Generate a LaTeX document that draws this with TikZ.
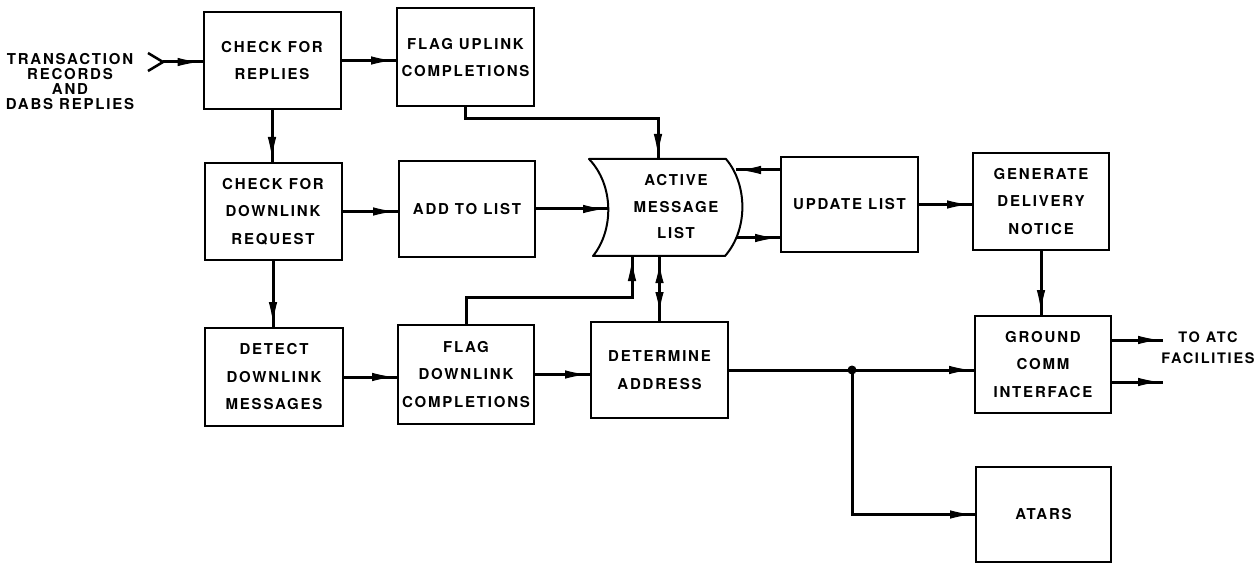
\documentclass[tikz,border=0pt]{standalone}
\usepackage{fontspec}
\newfontfamily\lbl[LetterSpace=12]{TeX Gyre Heros}
\usetikzlibrary{arrows.meta}
\tikzset{
  box/.style={draw, line width=2pt, minimum width=137pt, minimum height=97pt, inner sep=0pt, align=center,
    font=\lbl\bfseries\fontsize{15}{27.5}\selectfont},
  lab/.style={inner sep=0pt, align=center},
  flow/.style={line width=3pt,
    postaction={draw, line width=1pt, -{Latex[length=21pt,width=8.5pt]}, shorten >=4pt}},
  flowboth/.style={line width=3pt,
    postaction={draw, line width=1pt, {Latex[length=19pt,width=8.5pt]}-{Latex[length=19pt,width=8.5pt]},
      shorten >=8pt, shorten <=10pt}},
}
\begin{document}
\begin{tikzpicture}[x=1pt,y=-1pt]
\useasboundingbox (0,0) rectangle (1256,564);
% boxes
\node[box] (replies) at (272,60.5) {CHECK FOR\\REPLIES};
\node[box, minimum height=98pt] (uplink) at (465.5,57.5) {FLAG UPLINK\\COMPLETIONS};
\node[box] (dlreq) at (273,211.5) {CHECK FOR\\DOWNLINK\\REQUEST};
\node[box, minimum width=136pt, minimum height=96pt] (addlist) at (467,209) {ADD TO LIST};
\node[box, minimum height=95pt] (update) at (849.5,204.5) {UPDATE LIST};
\node[box, minimum width=136pt] (generate) at (1041,201.5) {GENERATE\\DELIVERY\\NOTICE};
\node[box, minimum width=136pt] (ground) at (1043,364.5) {GROUND\\COMM\\INTERFACE};
\node[box, minimum width=135pt, minimum height=95pt] (atars) at (1043.5,514.5) {ATARS};
\node[box, minimum width=138pt, minimum height=98pt] (detect) at (274,377) {DETECT\\DOWNLINK\\MESSAGES};
\node[box, minimum width=136pt, minimum height=99pt] (flagdl) at (466,374.5) {FLAG\\DOWNLINK\\COMPLETIONS};
\node[box, minimum height=96pt] (determine) at (659.5,370) {DETERMINE\\ADDRESS};
% active message list shape
\draw[line width=2pt, line join=round] (589,159) -- (726,159)
  .. controls (748,185) and (748,230) .. (725,256) -- (593,256)
  .. controls (614,230) and (614,185) .. (589,159) -- cycle;
\node[lab, font=\lbl\bfseries\fontsize{15}{26.5}\selectfont] (aml) at (676,207) {ACTIVE\\MESSAGE\\LIST};
\coordinate (amlL) at (608,209);
\coordinate (amlT) at (658,159);
\coordinate (amlB1) at (632,256);
\coordinate (amlB2) at (659.5,256);
\coordinate (amlR1) at (736,170);
\coordinate (amlR2) at (737,238);
% labels
\node[lab, font=\lbl\bfseries\fontsize{15}{15}\selectfont] (src) at (70,81.5) {TRANSACTION\\RECORDS\\AND\\DABS REPLIES};
\node[lab, font=\lbl\bfseries\fontsize{14.5}{21}\selectfont] (atc) at (1208,348) {TO ATC\\FACILITIES};
% input
\coordinate (inV) at (163,62);
\coordinate (inA) at (148,53);
\coordinate (inB) at (148,71);
\draw[line width=2.5pt] (inA) -- (inV) -- (inB);
\draw[flow] (inV) -- (inV -| replies.west);
% connectors
\draw[flow] (replies.east) -- (replies.east -| uplink.west);
\draw[flow] (replies.south) -- (replies.south |- dlreq.north);
\coordinate (bendU) at (658,119);
\draw[flow] (uplink.south) |- (bendU) -- (amlT);
\draw[flow] (dlreq.east) -- (dlreq.east -| addlist.west);
\draw[flow] (addlist.east) -- (amlL);
\draw[flow] (update.west |- amlR1) -- (amlR1);
\draw[flow] (amlR2) -- (amlR2 -| update.west);
\draw[flow] (update.east) -- (update.east -| generate.west);
\draw[flow] (generate.south) -- (generate.south |- ground.north);
\draw[flow] (dlreq.south) -- (dlreq.south |- detect.north);
\draw[flow] (detect.east) -- (detect.east -| flagdl.west);
\coordinate (bendD) at (632,297);
\draw[flow] (flagdl.north) |- (bendD) -- (amlB1);
\draw[flowboth] (determine.north) -- (determine.north |- amlB2);
\draw[flow] (flagdl.east) -- (flagdl.east -| determine.west);
\draw[flow] (determine.east) -- (determine.east -| ground.west);
\coordinate (junc) at (852,370);
\fill (junc) circle (4.5pt);
\draw[flow] (junc) |- (atars.west);
\coordinate (out1) at (1163,340);
\coordinate (out2) at (1163,382);
\draw[flow] (out1 -| ground.east) -- (out1);
\draw[flow] (out2 -| ground.east) -- (out2);
\end{tikzpicture}
\end{document}
